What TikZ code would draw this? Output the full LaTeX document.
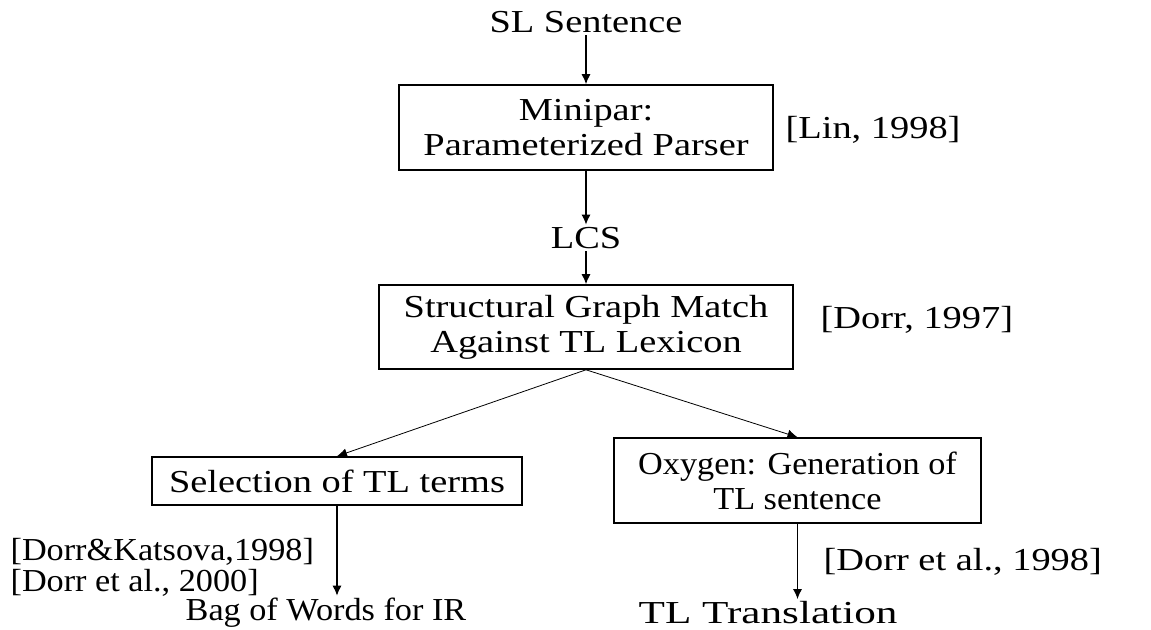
\documentclass[tikz,border=0pt]{standalone}
\usepackage{fontspec}
\setmainfont{Liberation Serif}[FakeStretch=1.2]
\newfontfamily\narrowserif{Liberation Serif}[FakeStretch=1.07]
\newfontfamily\wideserif{Liberation Serif}[FakeStretch=1.35]
\usetikzlibrary{arrows.meta}
\usetikzlibrary{positioning}

\begin{document}
\begin{tikzpicture}[x=0.5pt,y=-0.5pt,-{Latex[length=5pt,width=4.5pt]},semithick,
    font=\fontsize{16}{17.5}\selectfont]
  \tikzset{stagebox/.style={draw, thick, align=center, inner sep=0pt},
           flowtext/.style={inner sep=1pt},
           cite/.style={anchor=west, inner sep=0pt}}
  \useasboundingbox (0,0) rectangle (1151,630);
  \node[flowtext] (sl) at (586,22) {SL Sentence};
  \node[stagebox, minimum width=187pt, minimum height=42.5pt] (minipar) at (586,127.5) {Minipar:\\Parameterized Parser};
  \node[flowtext] (lcs) at (586,238) {LCS};
  \node[stagebox, minimum width=207pt, minimum height=42pt] (match) at (586,327) {Structural Graph Match\\Against TL Lexicon};
  \node[stagebox, minimum width=185pt, minimum height=24pt] (select) at (337,481) {Selection of TL terms};
  \node[stagebox, minimum width=183.5pt, minimum height=42.5pt] (oxygen) at (797.5,480.5) {\narrowserif Oxygen: Generation of\\\narrowserif TL sentence};
  \node[flowtext] (bag) at (326,613) {\narrowserif Bag of Words for IR};
  \node[flowtext] (trans) at (768,613) {\wideserif TL Translation};

  % references
  \node[cite] (lin) at (785,130) {[Lin, 1998]};
  \node[cite] (dorr97) at (820,320) {[Dorr, 1997]};
  \node[cite] (katsova) at (10,552) {\narrowserif [Dorr\&Katsova,1998]};
  \node[cite] (dorr00) at (10,583) {\narrowserif [Dorr et al., 2000]};
  \node[cite] (dorr98) at (823,562) {[Dorr et al., 1998]};

  \draw (sl) -- (minipar);
  \draw (minipar) -- (lcs);
  \draw (lcs) -- (match);
  \draw[thin] (match.south) -- (select.north);
  \draw[thin] (match.south) -- (oxygen.north);
  \draw (select.south) -- (select.south |- bag.north);
  \draw (oxygen.south) -- (oxygen.south |- trans.north);
\end{tikzpicture}
\end{document}
